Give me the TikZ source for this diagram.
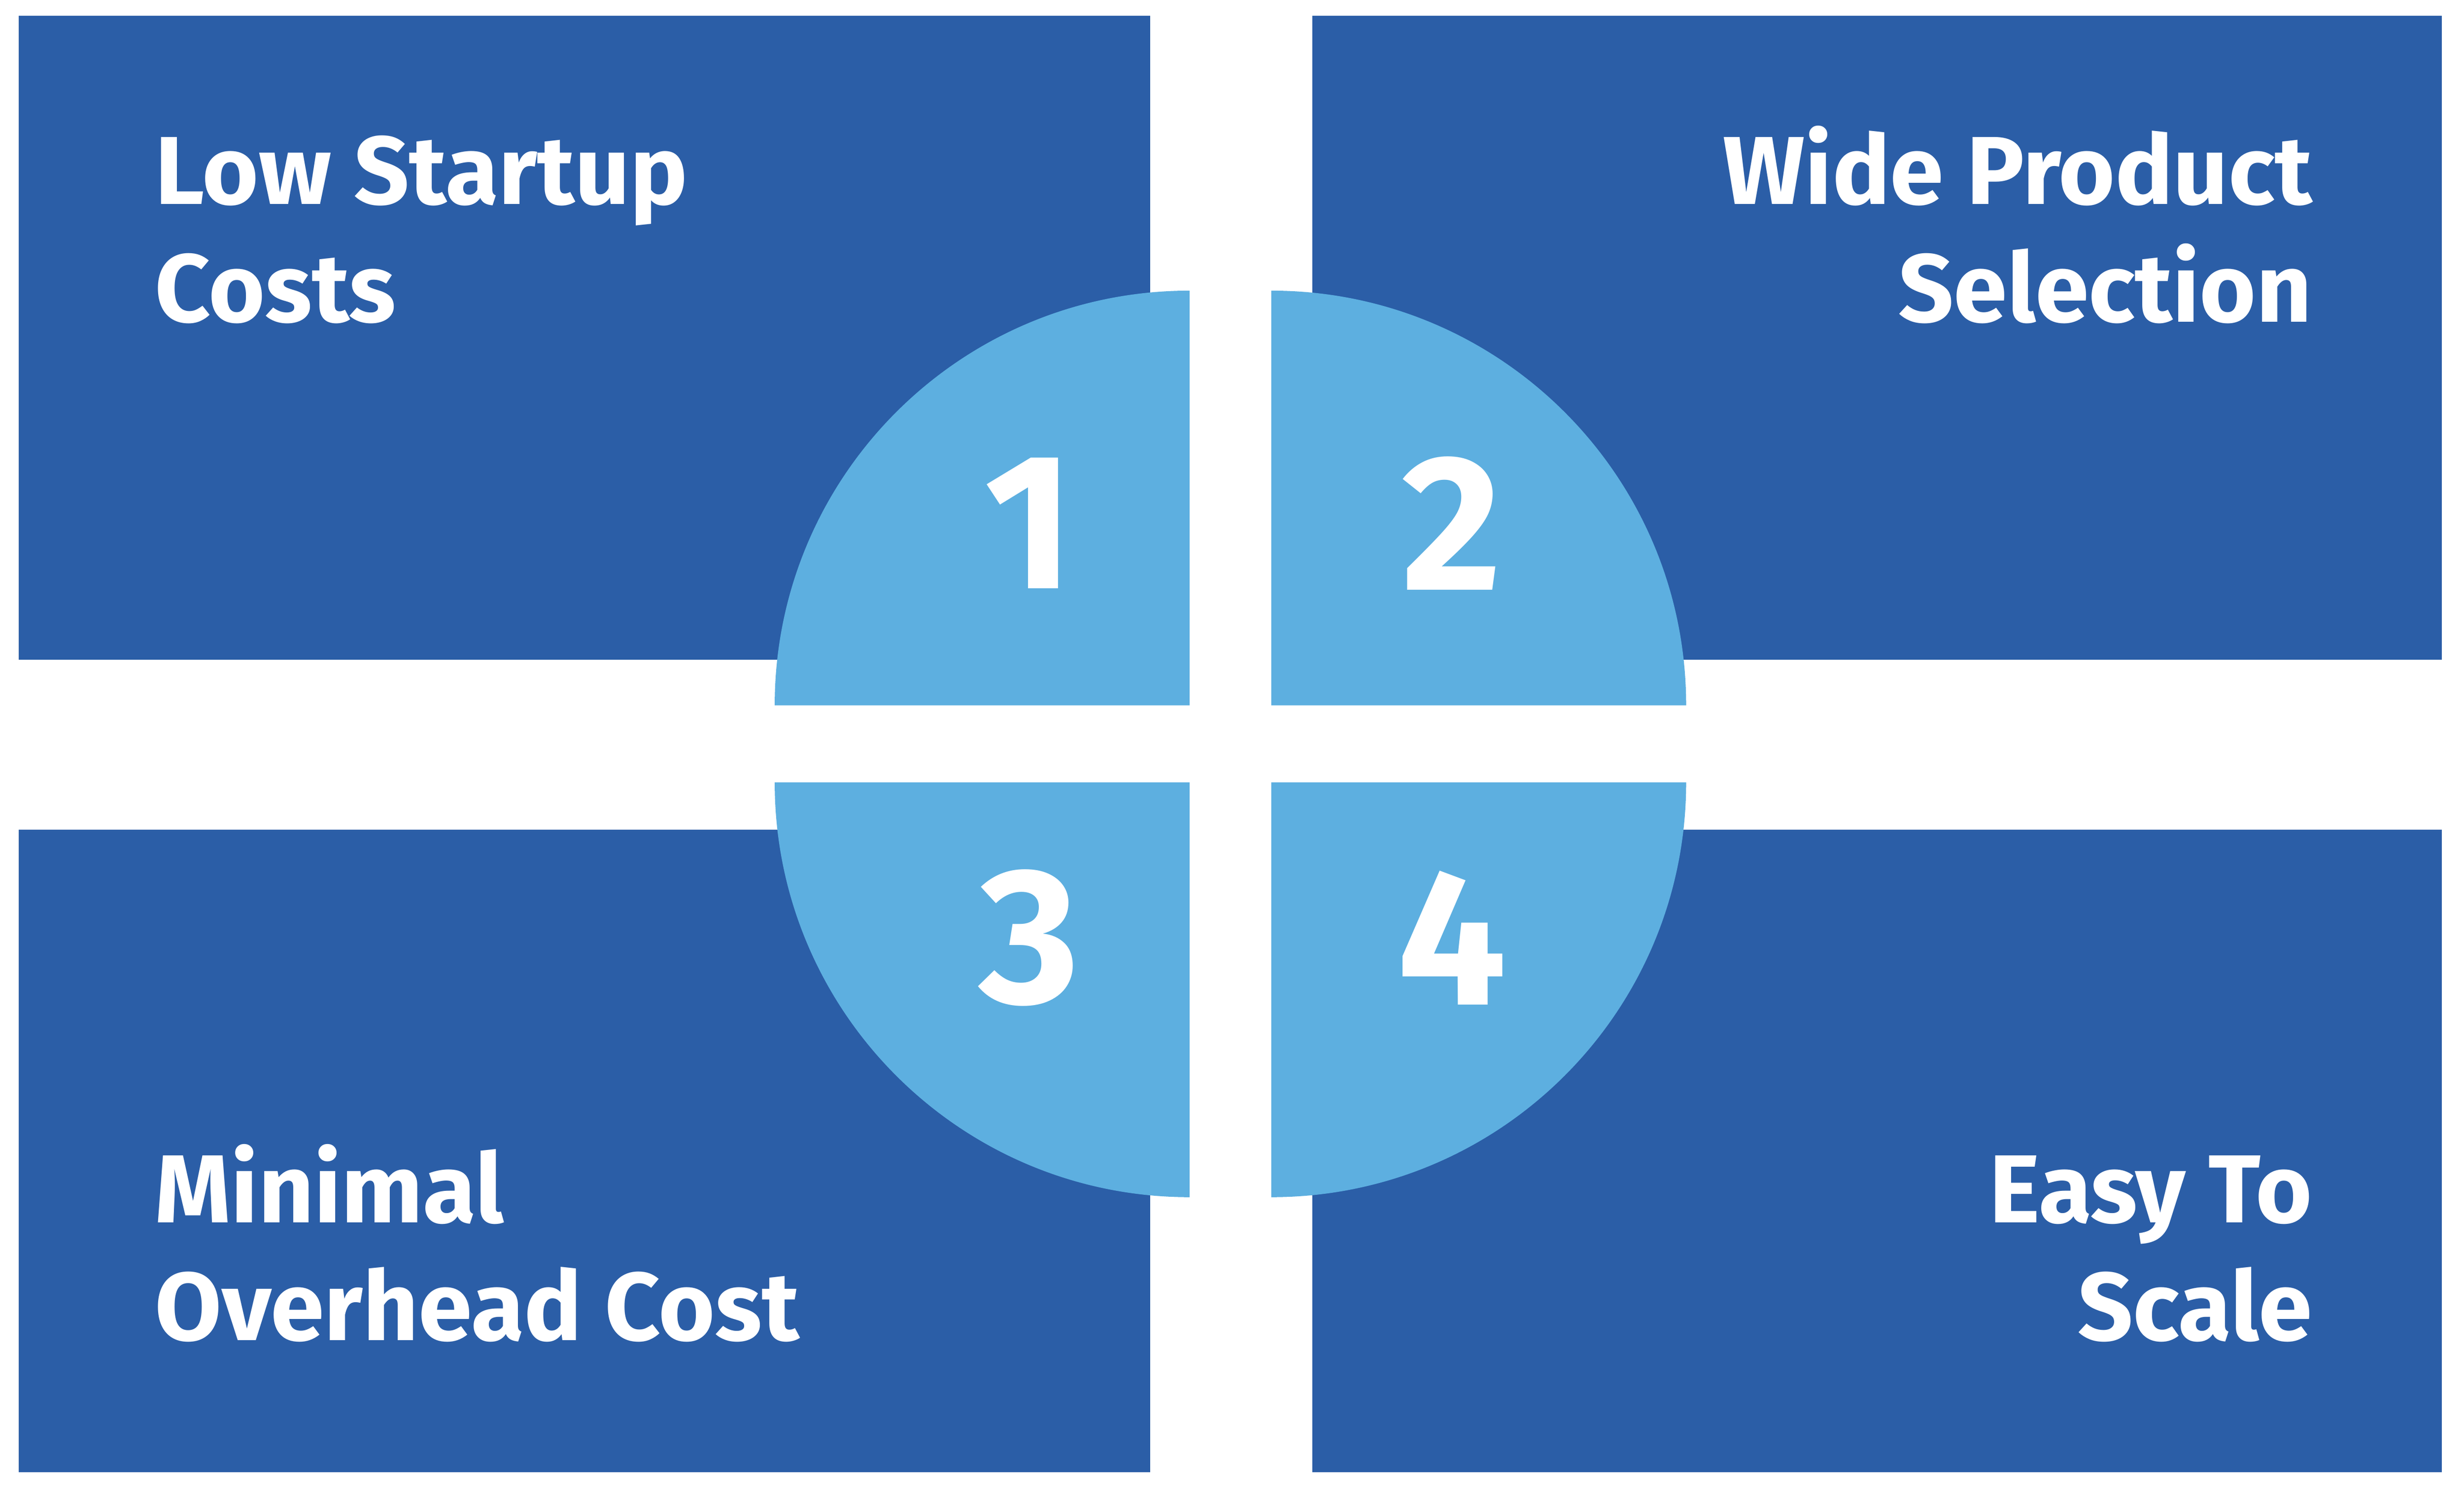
\documentclass[tikz,border=0pt]{standalone}
\usepackage{fontspec}
\setmainfont{Fira Sans}
\usetikzlibrary{positioning}
\definecolor{darkblue}{HTML}{2B5EA7}
\definecolor{lightblue}{HTML}{5DAFE0}
\tikzstyle{box} = [fill=darkblue]
\tikzstyle{quart} = [fill=lightblue]
\tikzstyle{lbl} = [text=white, font=\bfseries\fontsize{17.5}{21.3}\selectfont, inner sep=0pt]
\tikzstyle{num} = [text=white, font=\fontsize{35}{40}\selectfont\bfseries, inner sep=0pt]

\begin{document}
\begin{tikzpicture}[x=0.01cm, y=0.01cm]
    \useasboundingbox (0,0) rectangle (1568,945);

    % boxes
    \fill[box] (12,525) rectangle (732,935);
    \fill[box] (835,525) rectangle (1554,935);
    \fill[box] (12,8) rectangle (732,417);
    \fill[box] (835,8) rectangle (1554,417);

    % quarters of the disc
    \fill[quart] (757,496) -- (757,760) arc[start angle=90, end angle=180, radius=264] -- cycle;
    \fill[quart] (809,496) -- (1073,496) arc[start angle=0, end angle=90, radius=264] -- cycle;
    \fill[quart] (757,447) -- (493,447) arc[start angle=180, end angle=270, radius=264] -- cycle;
    \fill[quart] (809,447) -- (809,183) arc[start angle=270, end angle=360, radius=264] -- cycle;

    \node[num] (one) at (655,612) {1};
    \node[num] (two) at (924,612) {2};
    \node[num] (three) at (655,348) {3};
    \node[num] (four) at (924,348) {4};

    % labels
    \node[lbl, anchor=base west, align=left] (low) at (98,740) {Low Startup\\Costs};
    \node[lbl, anchor=base east, align=right] (wide) at (1472,740) {Wide Product\\Selection};
    \node[lbl, anchor=base west, align=left] (minimal) at (98,92) {Minimal\\Overhead Cost};
    \node[lbl, anchor=base east, align=right] (easy) at (1472,92) {Easy To\\Scale};

\end{tikzpicture}
\end{document}
